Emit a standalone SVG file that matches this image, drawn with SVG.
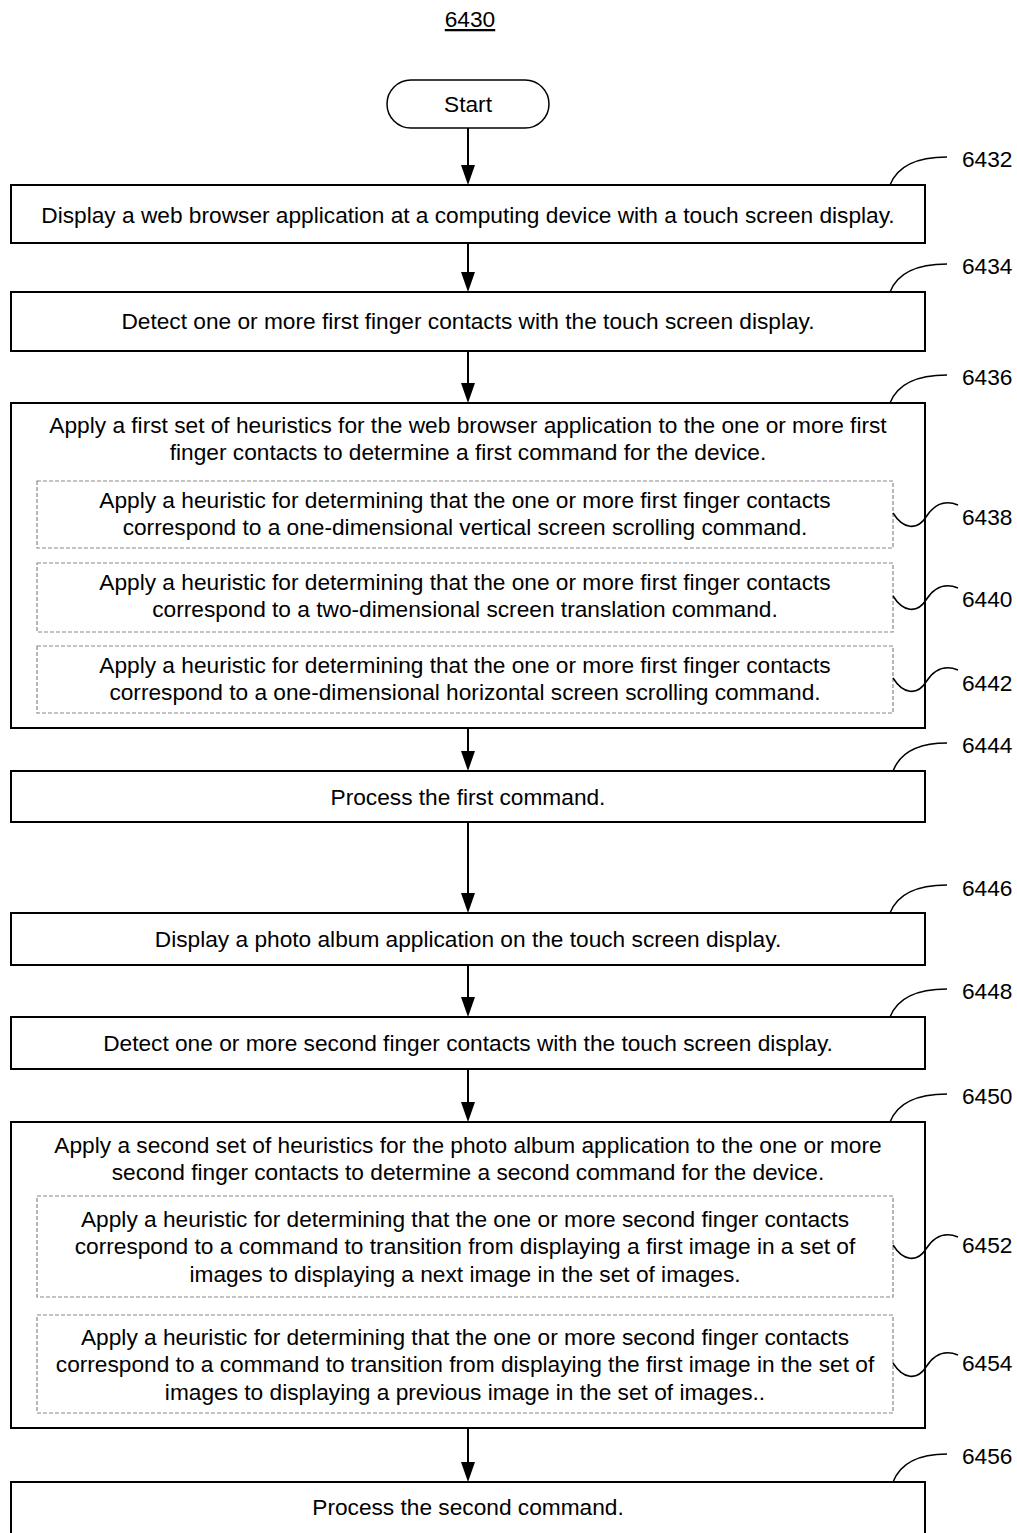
<svg xmlns="http://www.w3.org/2000/svg" width="1017" height="1533" viewBox="0 0 1017 1533">
<style>
text{font-family:"Liberation Sans",Arial,sans-serif;font-size:22.7px;fill:#000}
.c{text-anchor:middle}
.box{fill:#fff;stroke:#000;stroke-width:2}
.dash{fill:none;stroke:#888;stroke-width:1.2;stroke-dasharray:4 2}
.lead{fill:none;stroke:#000;stroke-width:1.5}
.conn{stroke:#000;stroke-width:2;fill:none}
</style>
<rect width="1017" height="1533" fill="#fff"/>
<g id="title"><text class="c" x="470" y="27" text-decoration="underline">6430</text></g>

<g id="connectors">
<path class="conn" d="M468,128 V166"/><path d="M461,165 L475,165 L468,185 Z"/>
<path class="conn" d="M468,243 V273"/><path d="M461,272 L475,272 L468,292 Z"/>
<path class="conn" d="M468,351 V384"/><path d="M461,383 L475,383 L468,403 Z"/>
<path class="conn" d="M468,728 V752"/><path d="M461,751 L475,751 L468,771 Z"/>
<path class="conn" d="M468,822 V894"/><path d="M461,893 L475,893 L468,913 Z"/>
<path class="conn" d="M468,965 V998"/><path d="M461,997 L475,997 L468,1017 Z"/>
<path class="conn" d="M468,1069 V1103"/><path d="M461,1102 L475,1102 L468,1122 Z"/>
<path class="conn" d="M468,1428 V1463"/><path d="M461,1462 L475,1462 L468,1482 Z"/>
</g>

<g id="start">
<rect x="387" y="80" width="162" height="48" rx="24" fill="#fff" stroke="#000" stroke-width="1.5"/>
<text class="c" x="468" y="112">Start</text>
</g>

<g id="n6432">
<rect class="box" x="11" y="185" width="914" height="58"/>
<text class="c" x="468" y="223">Display a web browser application at a computing device with a touch screen display.</text>
<path class="lead" d="M890,185 C897,167 915,157 947,157"/>
<text x="962" y="167">6432</text>
</g>

<g id="n6434">
<rect class="box" x="11" y="292" width="914" height="59"/>
<text class="c" x="468" y="329">Detect one or more first finger contacts with the touch screen display.</text>
<path class="lead" d="M890,292 C897,274 915,264 947,264"/>
<text x="962" y="274">6434</text>
</g>

<g id="n6436">
<rect class="box" x="11" y="403" width="914" height="325"/>
<text class="c" x="468" y="433">Apply a first set of heuristics for the web browser application to the one or more first</text>
<text class="c" x="468" y="460">finger contacts to determine a first command for the device.</text>
<path class="lead" d="M890,403 C897,385 915,375 947,375"/>
<text x="962" y="385">6436</text>
</g>

<g id="n6438">
<rect class="dash" x="37" y="481" width="856" height="67"/>
<text class="c" x="465" y="508">Apply a heuristic for determining that the one or more first finger contacts</text>
<text class="c" x="465" y="535">correspond to a one-dimensional vertical screen scrolling command.</text>
<path class="lead" d="M893,513 C903,529 917,531 926,517 C933,506 943,499 958,505"/>
<text x="962" y="525">6438</text>
</g>

<g id="n6440">
<rect class="dash" x="37" y="563" width="856" height="69"/>
<text class="c" x="465" y="590">Apply a heuristic for determining that the one or more first finger contacts</text>
<text class="c" x="465" y="617">correspond to a two-dimensional screen translation command.</text>
<path class="lead" d="M893,596 C903,612 917,614 926,600 C933,589 943,582 958,588"/>
<text x="962" y="607">6440</text>
</g>

<g id="n6442">
<rect class="dash" x="37" y="646" width="856" height="67"/>
<text class="c" x="465" y="673">Apply a heuristic for determining that the one or more first finger contacts</text>
<text class="c" x="465" y="700">correspond to a one-dimensional horizontal screen scrolling command.</text>
<path class="lead" d="M893,678 C903,694 917,696 926,682 C933,671 943,664 958,670"/>
<text x="962" y="691">6442</text>
</g>

<g id="n6444">
<rect class="box" x="11" y="771" width="914" height="51"/>
<text class="c" x="468" y="805">Process the first command.</text>
<path class="lead" d="M893,771 C900,753 918,743 947,743"/>
<text x="962" y="753">6444</text>
</g>

<g id="n6446">
<rect class="box" x="11" y="913" width="914" height="52"/>
<text class="c" x="468" y="947">Display a photo album application on the touch screen display.</text>
<path class="lead" d="M890,913 C897,895 915,885 947,885"/>
<text x="962" y="896">6446</text>
</g>

<g id="n6448">
<rect class="box" x="11" y="1017" width="914" height="52"/>
<text class="c" x="468" y="1051">Detect one or more second finger contacts with the touch screen display.</text>
<path class="lead" d="M890,1017 C897,999 915,989 947,989"/>
<text x="962" y="999">6448</text>
</g>

<g id="n6450">
<rect class="box" x="11" y="1122" width="914" height="306"/>
<text class="c" x="468" y="1153">Apply a second set of heuristics for the photo album application to the one or more</text>
<text class="c" x="468" y="1180">second finger contacts to determine a second command for the device.</text>
<path class="lead" d="M890,1122 C897,1104 915,1094 947,1094"/>
<text x="962" y="1104">6450</text>
</g>

<g id="n6452">
<rect class="dash" x="37" y="1196" width="856" height="101"/>
<text class="c" x="465" y="1227">Apply a heuristic for determining that the one or more second finger contacts</text>
<text class="c" x="465" y="1254">correspond to a command to transition from displaying a first image in a set of</text>
<text class="c" x="465" y="1282">images to displaying a next image in the set of images.</text>
<path class="lead" d="M893,1245 C903,1261 917,1263 926,1249 C933,1238 943,1231 958,1237"/>
<text x="962" y="1253">6452</text>
</g>

<g id="n6454">
<rect class="dash" x="37" y="1315" width="856" height="98"/>
<text class="c" x="465" y="1345">Apply a heuristic for determining that the one or more second finger contacts</text>
<text class="c" x="465" y="1372">correspond to a command to transition from displaying the first image in the set of</text>
<text class="c" x="465" y="1400">images to displaying a previous image in the set of images..</text>
<path class="lead" d="M893,1363 C903,1379 917,1381 926,1367 C933,1356 943,1349 958,1355"/>
<text x="962" y="1371">6454</text>
</g>

<g id="n6456">
<rect class="box" x="11" y="1482" width="914" height="60"/>
<text class="c" x="468" y="1515">Process the second command.</text>
<path class="lead" d="M893,1482 C900,1464 918,1454 947,1454"/>
<text x="962" y="1464">6456</text>
</g>
</svg>
